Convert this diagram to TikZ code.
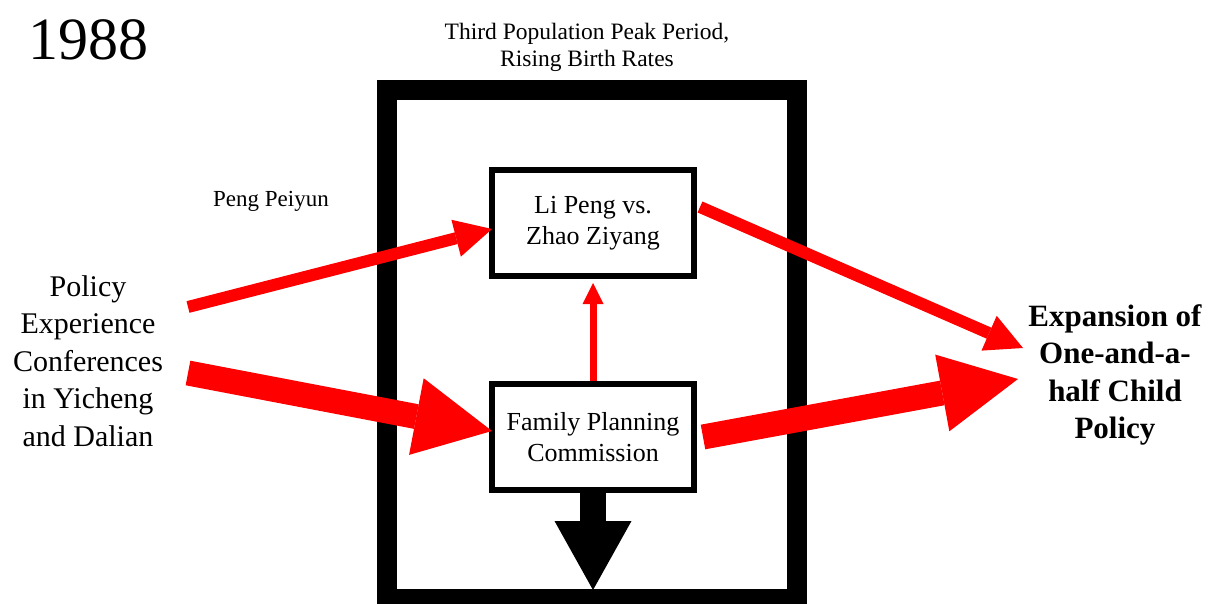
\documentclass[tikz,border=0pt]{standalone}
\usepackage{fontspec}
\setmainfont{Liberation Serif}
\usetikzlibrary{arrows.meta}
\begin{document}
\begin{tikzpicture}[x=1pt,y=-1pt,
  box/.style={draw, line width=6pt, minimum width=202pt, minimum height=106pt, inner sep=0pt, align=center, font=\fontsize{26}{31}\selectfont, fill=white},
  redthin/.style={draw=red, line width=12pt, -{Triangle[length=37pt,width=38pt,line width=0pt]}},
  redthick/.style={draw=red, line width=25pt, -{Triangle[length=77pt,width=78pt,line width=0pt]}},
  redsmall/.style={draw=red, line width=7pt, -{Triangle[length=21pt,width=21pt,line width=0pt]}},
  blackarrow/.style={draw=black, line width=26pt, -{Triangle[length=69pt,width=77pt,line width=0pt]}},
  frame/.style={draw, line width=20pt, minimum width=410pt, minimum height=509pt, inner sep=0pt},
  label/.style={inner sep=0pt, align=center}
]
\useasboundingbox (0,0) rectangle (1208,604);
\fill[white] (0,0) rectangle (1208,604);

\node[frame] (outer) at (592,344.5) {};

\node[label, anchor=base, font=\fontsize{60}{66}\selectfont] (year) at (88,60) {1988};
\node[label, font=\fontsize{23.5}{27}\selectfont] (title) at (587,47) {Third Population Peak Period,\\Rising Birth Rates};
\node[label, anchor=base, font=\fontsize{23}{27}\selectfont] (peng) at (271,207) {Peng Peiyun};
\node[label, font=\fontsize{30}{37.5}\selectfont] (policy) at (88,361) {Policy\\Experience\\Conferences\\in Yicheng\\and Dalian};
\node[label, font=\bfseries\fontsize{31}{37.5}\selectfont] (expansion) at (1115,375) {Expansion of\\One-and-a-\\half Child\\Policy};

\node[box] (lp) at (593,223) {Li Peng vs.\\Zhao Ziyang};
\node[box] (fpc) at (593,437) {Family Planning\\Commission};

\coordinate (t1) at (188,307);
\coordinate (t2) at (188,373);
\coordinate (h3) at (1023,348);
\coordinate (h4) at (1018,379);
\coordinate (bot) at (593,590);

\draw[redthin] (t1) -- ([shift={(3,6)}]lp.west);
\draw[redthick] (t2) -- ([shift={(3,-6)}]fpc.west);
\draw[redthin] ([shift={(3,-16)}]lp.east) -- (h3);
\draw[redthick] ([shift={(6,0)}]fpc.east) -- (h4);
\draw[redsmall] (fpc.north) -- ([shift={(0,4)}]lp.south);
\draw[blackarrow] (fpc.south) -- (bot);
\end{tikzpicture}
\end{document}
